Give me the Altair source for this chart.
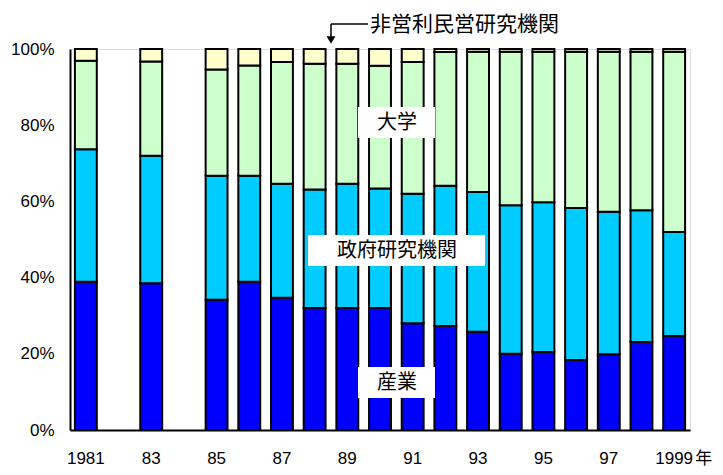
import altair as alt
import pandas as pd

all_years = [str(y) for y in range(1981, 2000)]
years = ["1981", "1983", "1985", "1986", "1987", "1988", "1989", "1990", "1991",
         "1992", "1993", "1994", "1995", "1996", "1997", "1998", "1999"]
industry = [38.9, 38.5, 34.2, 38.9, 34.7, 32.0, 32.0, 32.0, 28.0, 27.3, 25.8, 20.0, 20.5, 18.4, 19.9, 23.1, 24.7]
government = [34.8, 33.5, 32.5, 27.8, 29.9, 31.1, 32.6, 31.4, 34.0, 36.8, 36.7, 39.0, 39.3, 39.9, 37.4, 34.6, 27.3]
university = [23.2, 24.7, 27.9, 29.0, 32.0, 33.0, 31.5, 32.2, 34.6, 35.1, 36.8, 40.3, 39.5, 41.0, 42.0, 41.6, 47.3]
nonprofit = [3.1, 3.3, 5.4, 4.3, 3.4, 3.9, 3.9, 4.4, 3.4, 0.8, 0.7, 0.7, 0.7, 0.7, 0.7, 0.7, 0.7]

series_names = ["産業", "政府研究機関", "大学", "非営利民営研究機関"]
series_colors = ["#0000FF", "#00CCFF", "#CCFFCC", "#FFFFCC"]
tick_labels = {"1981": "1981", "1983": "83", "1985": "85", "1987": "87", "1989": "89",
               "1991": "91", "1993": "93", "1995": "95", "1997": "97", "1999": "1999"}

rows = []
for i, y in enumerate(years):
    for k, (name, vals) in enumerate(zip(series_names, [industry, government, university, nonprofit])):
        rows.append({"year": y, "series": name, "value": vals[i], "ord": k})
df = pd.DataFrame(rows)

label_expr = " : ".join(
    [f"datum.value == '{k}' ? '{v}'" for k, v in tick_labels.items()]) + " : ''"

JP = "Noto Sans CJK JP"
LAT = "Liberation Sans"

bars = alt.Chart(df).mark_bar(stroke="black", strokeWidth=2).encode(
    x=alt.X("year:N", scale=alt.Scale(domain=all_years, paddingInner=0.33, paddingOuter=0.15),
            axis=alt.Axis(title=None, labelAngle=0, labelExpr=label_expr, ticks=False,
                          labelFont=LAT, labelFontSize=17, labelColor="black", labelPadding=20,
                          domainColor="black", domainWidth=2)),
    y=alt.Y("value:Q", stack="zero", scale=alt.Scale(domain=[0, 100]),
            axis=alt.Axis(title=None, values=[0, 20, 40, 60, 80, 100], labelExpr="datum.value + '%'",
                          ticks=False, grid=False, labelFont=LAT, labelFontSize=17, labelColor="black",
                          labelPadding=16, domainColor="black", domainWidth=2)),
    color=alt.Color("series:N", scale=alt.Scale(domain=series_names, range=series_colors), legend=None),
    order=alt.Order("ord:Q", sort="ascending"),
)

ann = pd.DataFrame({
    "text": ["大学", "政府研究機関", "産業"],
    "x1": [288, 238, 288], "x2": [365, 415, 365],
    "y1": [58, 186, 318], "y2": [89, 217, 349],
    "cx": [327, 327, 327], "cy": [74, 202, 334],
})

boxes = alt.Chart(ann).mark_rect(fill="white").encode(
    x=alt.X("x1:Q", scale=None), x2="x2:Q",
    y=alt.Y("y1:Q", scale=None), y2="y2:Q",
)
texts = alt.Chart(ann).mark_text(font=JP, fontSize=20, color="black", baseline="middle").encode(
    x=alt.X("cx:Q", scale=None), y=alt.Y("cy:Q", scale=None), text="text:N"
)

top_label = alt.Chart(pd.DataFrame({"t": ["非営利民営研究機関"]})).mark_text(
    font=JP, fontSize=21, color="black", align="left", baseline="middle"
).encode(x=alt.value(300), y=alt.value(-24), text="t:N")

hline = alt.Chart(pd.DataFrame({"a": [0]})).mark_rule(color="black", strokeWidth=1.5).encode(
    x=alt.value(261), x2=alt.value(298), y=alt.value(-25))
vline = alt.Chart(pd.DataFrame({"a": [0]})).mark_rule(color="black", strokeWidth=1.5).encode(
    x=alt.value(261), y=alt.value(-25), y2=alt.value(-10))
arrow = alt.Chart(pd.DataFrame({"a": [0]})).mark_point(
    shape="triangle-down", filled=True, color="black", size=80, opacity=1
).encode(x=alt.value(261), y=alt.value(-9))

nen = alt.Chart(pd.DataFrame({"year": ["1999"], "t": ["年"]})).mark_text(
    font=JP, fontSize=17, color="black", align="left", baseline="middle", dx=21
).encode(x=alt.X("year:N"), y=alt.value(410), text="t:N")

chart = alt.layer(bars, boxes, texts, top_label, hline, vline, arrow, nen).properties(
    width=620, height=381,
    padding={"left": 62, "top": 41, "right": 25, "bottom": 38},
    autosize="none",
).configure_view(stroke="#222", strokeWidth=1).configure(background="white")

chart.save("out.html", embed_options={"renderer": "svg", "actions": False})
